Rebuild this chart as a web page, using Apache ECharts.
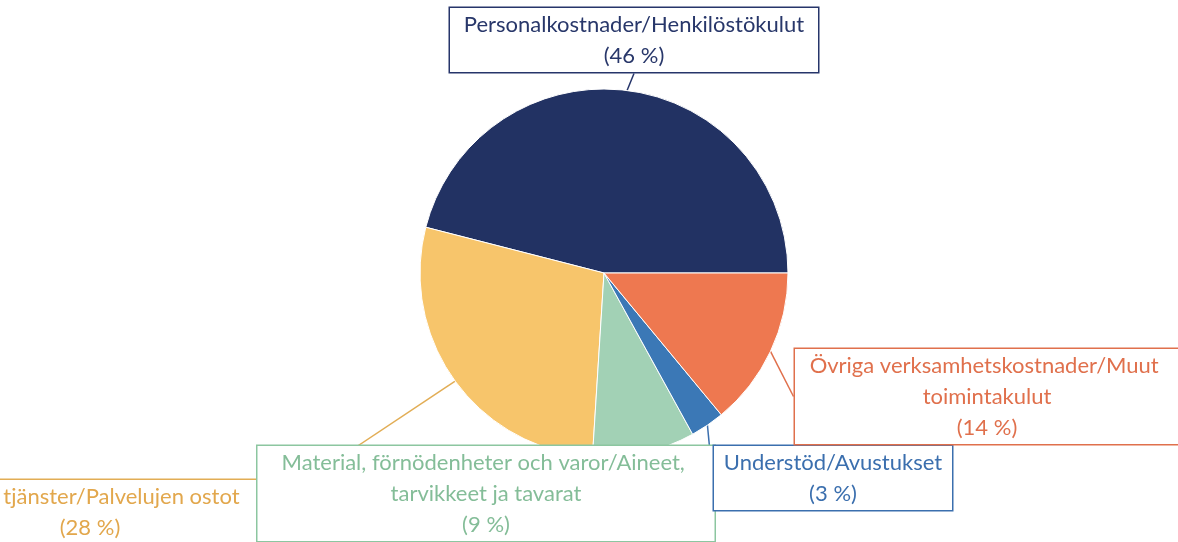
<!DOCTYPE html>
<html>
<head>
<meta charset="utf-8">
<script src="https://cdn.jsdelivr.net/npm/echarts@6/dist/echarts.min.js"></script>
<style>
  html, body { margin: 0; padding: 0; background: #fff; }
  #main { width: 1178px; height: 542px; }
</style>
</head>
<body>
<div id="main"></div>
<script>
var categories = [
  'Personalkostnader/Henkilöstökulut',
  'Köpta tjänster/Palvelujen ostot',
  'Material, förnödenheter och varor/Aineet, tarvikkeet ja tavarat',
  'Understöd/Avustukset',
  'Övriga verksamhetskostnader/Muut toimintakulut'
];
var shares = [46, 28, 9, 3, 14];

var sliceColors = ['#223263', '#f7c56b', '#a2d1b5', '#3b78b6', '#ee7850'];
var textColors = ['#28376a', '#e2a74c', '#84bd98', '#3b6fae', '#e0704c'];
var borderColors = ['#26356a', '#e2ad55', '#8cc6a0', '#3b6fae', '#e0704c'];
// label box layout: centre x, top y, inner width, wrapping
var labelPos = [
  [634, 8, 352, 'none'],
  [90, 480, 318, 'none'],
  [486, 446, 441, 'break'],
  [833, 446, 222, 'none'],
  [987, 349, 368, 'break']
];

var chartDom = document.getElementById('main');
var myChart = echarts.init(chartDom);
var option;

option = {
  animation: false,
  series: [
    {
      type: 'pie',
      center: [604, 273],
      radius: 184,
      startAngle: 0,
      clockwise: false,
      avoidLabelOverlap: false,
      itemStyle: {
        borderColor: '#fff',
        borderWidth: 1
      },
      label: {
        show: true,
        position: 'outside',
        formatter: '{b}\n({c} %)',
        fontFamily: 'Lato',
        fontSize: 22,
        lineHeight: 31,
        align: 'center',
        backgroundColor: '#fff',
        borderWidth: 1.5,
        padding: [1, 8, 1, 8]
      },
      labelLine: {
        show: true,
        length: 0,
        length2: 0,
        lineStyle: { width: 1.5 }
      },
      labelLayout: function (params) {
        var p = labelPos[params.dataIndex];
        return {
          x: p[0],
          y: p[1],
          align: 'center',
          verticalAlign: 'top'
        };
      },
      data: categories.map(function (name, i) {
        return {
          name: name,
          value: shares[i],
          itemStyle: { color: sliceColors[i] },
          label: {
            color: textColors[i],
            borderColor: borderColors[i],
            width: labelPos[i][2],
            overflow: labelPos[i][3]
          },
          labelLine: { lineStyle: { color: borderColors[i] } }
        };
      })
    }
  ]
};

option && myChart.setOption(option);
</script>
</body>
</html>
